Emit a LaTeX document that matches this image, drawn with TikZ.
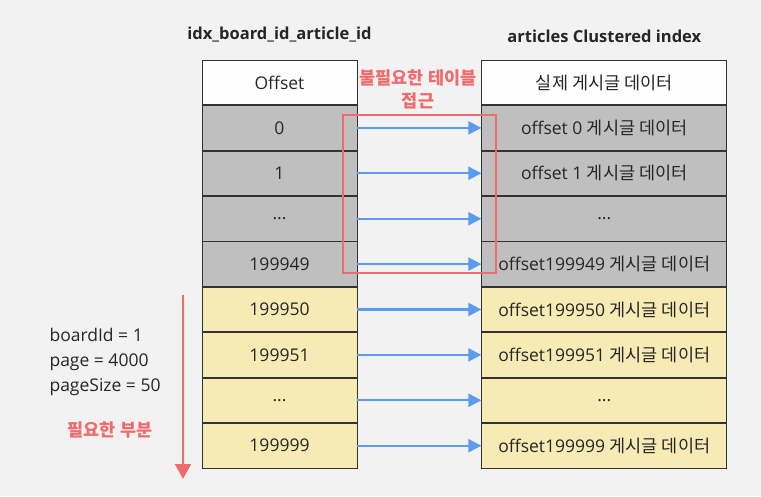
\documentclass[tikz,border=0pt]{standalone}
\usepackage{fontspec}
\setmainfont{Open Sans}
\newfontfamily\kr{Noto Sans CJK KR}
\usepackage{xcolor}
\usetikzlibrary{arrows.meta,positioning}

\definecolor{bgcol}{HTML}{F2F2F2}
\definecolor{linecol}{HTML}{333333}
\definecolor{graycell}{HTML}{BFBFBF}
\definecolor{yellowcell}{HTML}{F7EBB5}
\definecolor{arrowblue}{HTML}{5B9BF0}
\definecolor{warnred}{HTML}{F06B6B}

\begin{document}
\begin{tikzpicture}[x=1pt, y=-1pt,
    cell/.style={rectangle, draw=linecol, line width=0.8pt, minimum height=44.6pt, inner sep=0pt, font=\fontsize{17.5}{20}\selectfont, text=black!85},
    idx/.style={cell, minimum width=155pt},
    rec/.style={cell, minimum width=245pt},
    title/.style={font=\fontsize{16.5}{19}\selectfont\bfseries, text=black!85},
    access/.style={draw=arrowblue, line width=2.2pt, -{Triangle[length=13pt,width=13pt]}},
    note/.style={font=\fontsize{17.5}{25}\selectfont, text=black!85, align=left}
]
    \fill[bgcol] (0,0) rectangle (761,496);
    \useasboundingbox (0,0) rectangle (761,496);

    % index side
    \node[idx, fill=white!95!bgcol] (ih) at (279.5,82.5) {Offset};
    \node[idx, fill=graycell, below=0pt of ih] (i0) {0};
    \node[idx, fill=graycell, below=0pt of i0] (i1) {1};
    \node[idx, fill=graycell, below=0pt of i1] (i2) {...};
    \node[idx, fill=graycell, below=0pt of i2] (i3) {199949};
    \node[idx, fill=yellowcell, below=0pt of i3] (i4) {199950};
    \node[idx, fill=yellowcell, below=0pt of i4] (i5) {199951};
    \node[idx, fill=yellowcell, below=0pt of i5] (i6) {...};
    \node[idx, fill=yellowcell, below=0pt of i6] (i7) {199999};
    \node[title, above=14pt of ih] (ititle) {idx\_board\_id\_article\_id};

    % clustered index side
    \node[rec, fill=white!95!bgcol, right=124pt of ih] (rh) {\kr 실제 게시글 데이터};
    \node[rec, fill=graycell, below=0pt of rh] (r0) {offset 0 {\kr 게시글 데이터}};
    \node[rec, fill=graycell, below=0pt of r0] (r1) {offset 1 {\kr 게시글 데이터}};
    \node[rec, fill=graycell, below=0pt of r1] (r2) {...};
    \node[rec, fill=graycell, below=0pt of r2] (r3) {offset199949 {\kr 게시글 데이터}};
    \node[rec, fill=yellowcell, below=0pt of r3] (r4) {offset199950 {\kr 게시글 데이터}};
    \node[rec, fill=yellowcell, below=0pt of r4] (r5) {offset199951 {\kr 게시글 데이터}};
    \node[rec, fill=yellowcell, below=0pt of r5] (r6) {...};
    \node[rec, fill=yellowcell, below=0pt of r6] (r7) {offset199999 {\kr 게시글 데이터}};
    \node[title, above=14pt of rh] (rtitle) {articles Clustered index};

    \foreach \k in {0,...,7}
        \draw[access] (i\k.east) -- (r\k.west);

    % wasted access
    \node[draw=warnred, line width=2.2pt, minimum width=153pt, minimum height=158pt, inner sep=0pt] (waste) at (419.5,194) {};
    \node[font=\kr\fontsize{17.5}{23}\selectfont\bfseries, text=warnred, align=center] (wastelbl) at (418,89) {불필요한 테이블\\접근};

    % needed part
    \coordinate (ntop) at (183,295);
    \coordinate (nbot) at (183,479);
    \draw[draw=warnred, line width=2.2pt, -{Triangle[length=15pt,width=16pt]}] (ntop) -- (nbot);
    \node[note, anchor=west] (params) at (46,362) {boardId = 1\\page = 4000\\pageSize = 50};
    \node[font=\kr\fontsize{17.5}{19}\selectfont\bfseries, text=warnred] (needlbl) at (110,430) {필요한 부분};
\end{tikzpicture}
\end{document}
